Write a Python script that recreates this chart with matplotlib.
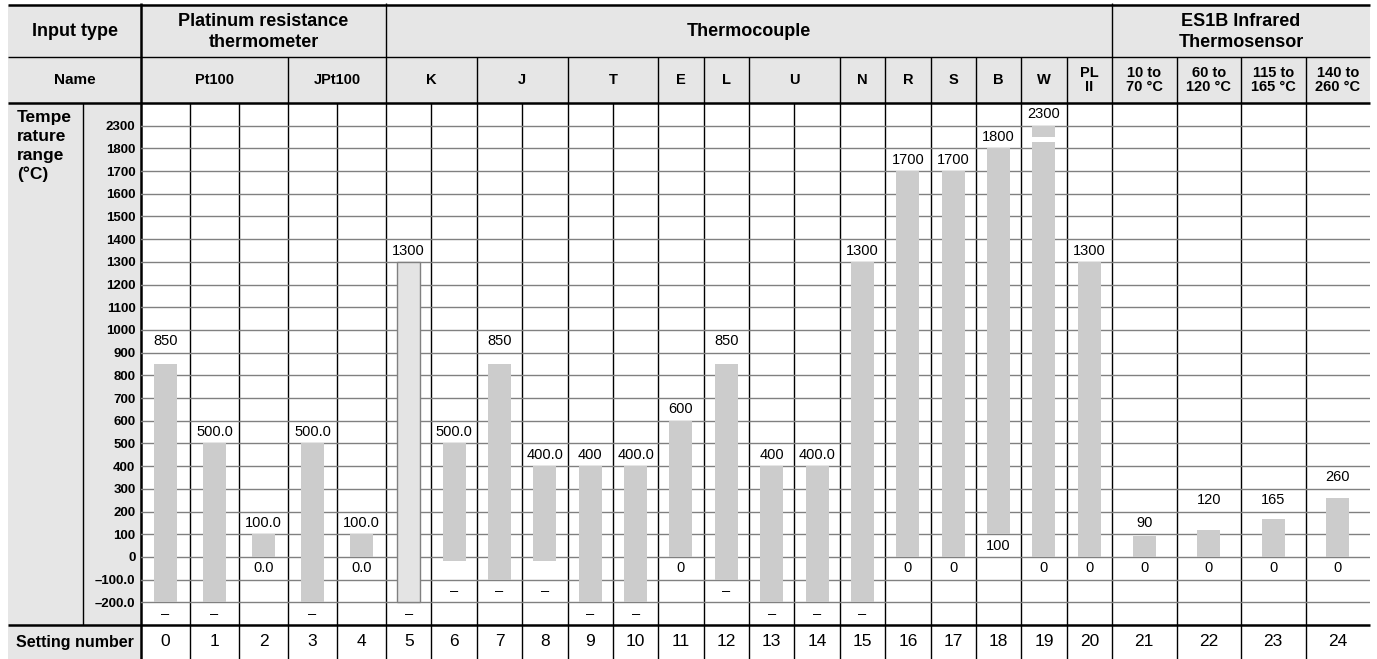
import numpy as np
import matplotlib.pyplot as plt

plt.rcParams['font.family'] = ['Liberation Sans', 'DejaVu Sans']

setting_no = list(range(25))
low = [-200, -199.9, 0.0, -199.9, 0.0, -200, -20.0, -100, -20.0, -200, -199.9, 0, -100,
       -200, -199.9, -200, 0, 0, 100, 0, 0, 0, 0, 0, 0]
high = [850, 500.0, 100.0, 500.0, 100.0, 1300, 500.0, 850, 400.0, 400, 400.0, 600, 850,
        400, 400.0, 1300, 1700, 1700, 1800, 2300, 1300, 90, 120, 165, 260]
top_labels = ['850', '500.0', '100.0', '500.0', '100.0', '1300', '500.0', '850', '400.0',
              '400', '400.0', '600', '850', '400', '400.0', '1300', '1700', '1700', '1800',
              '2300', '1300', '90', '120', '165', '260']
bottom_labels = ['–', '–', '0.0', '–', '0.0', '–', '–', '–', '–', '–', '–', '0', '–',
                 '–', '–', '–', '0', '0', '100', '0', '0', '0', '0', '0', '0']
tick_values = [-200, -100] + list(range(0, 1900, 100)) + [2300]
tick_labels = ['–200.0', '–100.0'] + [str(v) for v in range(0, 1900, 100)] + ['2300']
input_types = ['Platinum resistance\nthermometer', 'Thermocouple', 'ES1B Infrared\nThermosensor']
input_span = [5, 16, 4]
names = ['Pt100', 'JPt100', 'K', 'J', 'T', 'E', 'L', 'U', 'N', 'R', 'S', 'B', 'W', 'PL\nII',
         '10 to\n70 °C', '60 to\n120 °C', '115 to\n165 °C', '140 to\n260 °C']
name_span = [3, 2, 2, 2, 2, 1, 1, 2, 1, 1, 1, 1, 1, 1, 1, 1, 1, 1]
w_break = (1950, 2040)  # white cut in the W bar


# y scale: 100 per row up to 1800, then one row for 1800-2300
def fwd(v):
    v = np.asarray(v, dtype=float)
    return np.where(v <= 1800, v / 100.0, 18 + (v - 1800) / 500.0)


def inv(y):
    y = np.asarray(y, dtype=float)
    return np.where(y <= 18, y * 100.0, 1800 + (y - 18) * 500.0)


# ---- layout (pixels) ----
W, H = 1377, 659
X_LEFT, X_TICK, X_DATA, X_RIGHT = 8, 83, 141, 1370
Y_TOP, Y_R1, Y_R2, Y_SET, Y_BOT = 5, 57, 103, 625, 659
widths = np.array([49.0] * 5 + [45.375] * 16 + [64.5] * 4)
edges = X_DATA + np.concatenate([[0], np.cumsum(widths)])
centers = (edges[:-1] + edges[1:]) / 2
GRAY_BG = '#e6e6e6'

fig = plt.figure(figsize=(W / 100, H / 100), dpi=100)

# frame axes in pixel coordinates for the table structure
fr = fig.add_axes([0, 0, 1, 1])
fr.set_xlim(0, W)
fr.set_ylim(H, 0)
fr.axis('off')

fr.add_patch(plt.Rectangle((X_LEFT, Y_TOP), X_RIGHT - X_LEFT, Y_R2 - Y_TOP, color=GRAY_BG, lw=0))
fr.add_patch(plt.Rectangle((X_LEFT, Y_R2), X_DATA - X_LEFT, Y_BOT - Y_R2, color=GRAY_BG, lw=0))

# horizontal rules
fr.hlines([Y_TOP, Y_R2, Y_SET], X_LEFT, X_RIGHT, color='black', lw=1.8)
fr.hlines(Y_R1, X_LEFT, X_RIGHT, color='black', lw=1)

# vertical rules
fr.vlines(X_DATA, Y_TOP - 2, Y_BOT, color='black', lw=1.8)
fr.vlines(X_TICK, Y_R2, Y_SET, color='black', lw=1)
fr.vlines(edges[1:-1], Y_R2, Y_BOT, color='black', lw=1)
ncum = np.cumsum(name_span)[:-1]
fr.vlines(edges[ncum], Y_R1, Y_R2, color='black', lw=1)
icum = np.cumsum(input_span)[:-1]
fr.vlines(edges[icum], Y_TOP - 2, Y_R1, color='black', lw=1)

# header texts
hkw = dict(ha='center', va='center', fontweight='bold')
fr.text((X_LEFT + X_DATA) / 2, (Y_TOP + Y_R1) / 2, 'Input type', fontsize=13, **hkw)
start = 0
for lab, sp in zip(input_types, input_span):
    fr.text((edges[start] + edges[start + sp]) / 2, (Y_TOP + Y_R1) / 2 + 1, lab, fontsize=13,
            linespacing=1.25, **hkw)
    start += sp

fr.text((X_LEFT + X_DATA) / 2, (Y_R1 + Y_R2) / 2, 'Name', fontsize=11, **hkw)
start = 0
for lab, sp in zip(names, name_span):
    fr.text((edges[start] + edges[start + sp]) / 2, (Y_R1 + Y_R2) / 2, lab, fontsize=10.5,
            linespacing=1.05, **hkw)
    start += sp

fr.text(17, Y_R2 + 7, 'Tempe\nrature\nrange\n(°C)', ha='left', va='top',
        fontsize=12.5, fontweight='bold', linespacing=1.32)

fr.text((X_LEFT + X_DATA) / 2, (Y_SET + Y_BOT) / 2, 'Setting number', ha='center', va='center',
        fontsize=11.5, fontweight='bold')
for c, n in zip(centers, setting_no):
    fr.text(c, (Y_SET + Y_BOT) / 2, str(n), ha='center', va='center', fontsize=12.5)

# data axes: bars on the piecewise temperature scale
ax = fig.add_axes([X_DATA / W, (H - Y_SET) / H, (X_RIGHT - X_DATA) / W, (Y_SET - Y_R2) / H])
ax.patch.set_visible(False)
ax.set_yscale('function', functions=(fwd, inv))
ax.set_xlim(X_DATA, X_RIGHT)
ax.set_ylim(-300, 2800)
ax.set_yticks(tick_values)
ax.set_yticklabels(tick_labels, fontsize=9.5, fontweight='bold')
ax.tick_params(axis='y', length=0, pad=4)
ax.set_xticks([])
ax.grid(axis='y', color='#808080', lw=1)
ax.set_axisbelow(True)
for s in ax.spines.values():
    s.set_visible(False)

lo = np.array(low, dtype=float)
hi = np.array(high, dtype=float)
bars = ax.bar(centers, hi - lo, bottom=lo, width=23, color='#cccccc', lw=0, zorder=3)
bars[5].set_facecolor('#e4e4e4')
bars[5].set_edgecolor('#808080')
bars[5].set_linewidth(1)

# white cut in the W bar
ax.bar(centers[19], w_break[1] - w_break[0], bottom=w_break[0], width=25, color='white', lw=0, zorder=4)

for c, l, h, tl, bl in zip(centers, lo, hi, top_labels, bottom_labels):
    ty = inv(np.ceil(fwd(h) - 1e-9) + 0.5)
    by = inv(np.floor(fwd(l) + 1e-9) - 0.5)
    ax.text(c, ty, tl, ha='center', va='center', fontsize=10.5, zorder=5)
    ax.text(c, by, bl, ha='center', va='center', fontsize=10.5, zorder=5)

fig.savefig('out.png', dpi=100)
